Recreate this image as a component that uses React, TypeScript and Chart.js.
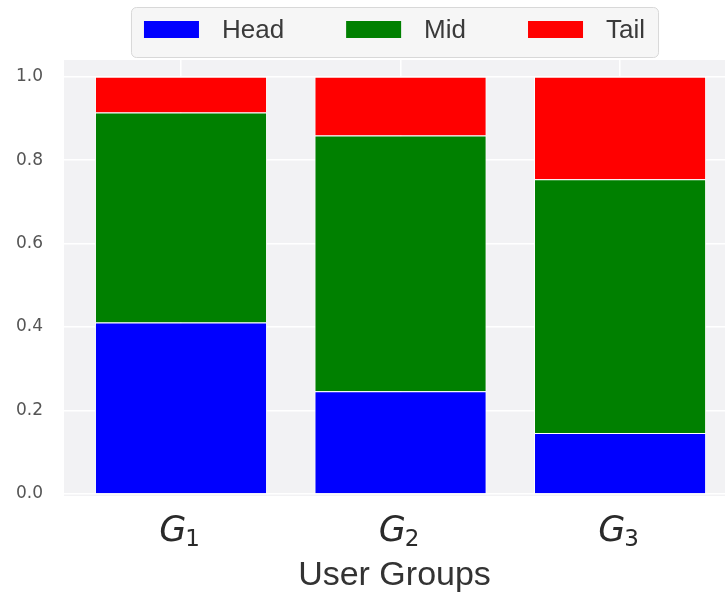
import React, { useEffect, useRef } from "react";
import { Chart, registerables } from "chart.js";

Chart.register(...registerables);

// ---- data ----
const groupNames = ["G", "G", "G"];
const groupSubscripts = ["1", "2", "3"];
const seriesNames = ["Head", "Mid", "Tail"];
const headValues = [0.411, 0.246, 0.146];
const midValues = [0.503, 0.613, 0.608];
const tailValues = [0.086, 0.141, 0.246];
const yTickValues = [0, 0.2, 0.4, 0.6, 0.8, 1.0];
const xTitle = "User Groups";
const seriesColors = ["#0000ff", "#008000", "#ff0000"];

const W = 725;
const H = 598;

const bgPlugin = {
  id: "plotBg",
  beforeDraw(chart: any) {
    const { ctx, chartArea } = chart;
    ctx.save();
    ctx.fillStyle = "#ffffff";
    ctx.fillRect(0, 0, chart.width, chart.height);
    ctx.fillStyle = "#f2f2f4";
    ctx.fillRect(chartArea.left, chartArea.top, chartArea.right - chartArea.left, chartArea.bottom - chartArea.top + 2);
    ctx.restore();
  },
};

const legendPlugin = {
  id: "customLegend",
  afterDraw(chart: any) {
    const { ctx, chartArea } = chart;
    ctx.save();
    ctx.font = '26px "Liberation Sans", Arial, sans-serif';
    const sw = 55, sh = 17, gap = 23, spacing = 62, padX = 13;
    const items = chart.data.datasets.map((d: any) => ({
      label: d.label,
      color: d.backgroundColor,
      tw: ctx.measureText(d.label).width,
    }));
    const inner =
      items.reduce((s: number, it: any) => s + sw + gap + it.tw, 0) + spacing * (items.length - 1);
    const boxW = inner + 2 * padX;
    const cx = (chartArea.left + chartArea.right) / 2;
    const bx = cx - boxW / 2;
    const by = 7;
    const bh = 50;
    ctx.beginPath();
    (ctx as any).roundRect(bx + 0.5, by + 0.5, boxW, bh, 5);
    ctx.fillStyle = "#f6f6f6";
    ctx.fill();
    ctx.strokeStyle = "#d8d8d8";
    ctx.lineWidth = 1;
    ctx.stroke();
    const cy = 29.5;
    let x = bx + padX;
    ctx.textBaseline = "middle";
    ctx.textAlign = "left";
    items.forEach((it: any) => {
      ctx.fillStyle = it.color;
      ctx.fillRect(x, cy - sh / 2, sw, sh);
      x += sw + gap;
      ctx.fillStyle = "#3a3a3a";
      ctx.fillText(it.label, x, cy + 1);
      x += it.tw + spacing;
    });
    ctx.restore();
  },
};

const xLabelPlugin = {
  id: "xMathLabels",
  afterDraw(chart: any) {
    const { ctx } = chart;
    const xs = chart.scales.x;
    ctx.save();
    ctx.fillStyle = "#2a2a2a";
    ctx.textBaseline = "alphabetic";
    ctx.textAlign = "left";
    groupNames.forEach((g, i) => {
      const cx = xs.getPixelForValue(i);
      ctx.font = 'italic 35px "DejaVu Sans", sans-serif';
      const w1 = ctx.measureText(g).width;
      ctx.font = '23px "DejaVu Sans", sans-serif';
      const w2 = ctx.measureText(groupSubscripts[i]).width;
      const start = cx - (w1 + w2) / 2 - 1;
      ctx.font = 'italic 35px "DejaVu Sans", sans-serif';
      ctx.fillText(g, start, 541);
      ctx.font = '23px "DejaVu Sans", sans-serif';
      ctx.fillText(groupSubscripts[i], start + w1 - 1, 546);
    });
    ctx.restore();
  },
};

export default function App() {
  const ref = useRef<HTMLCanvasElement | null>(null);

  useEffect(() => {
    document.body.style.margin = "0";
    const canvas = ref.current;
    if (!canvas) return;
    const mk = (vals: number[]) => vals.map((v, i) => ({ x: i, y: v }));
    const allSeries = [headValues, midValues, tailValues];
    const chart = new Chart(canvas, {
      type: "bar",
      data: {
        datasets: seriesNames.map((name, k) => ({
          label: name,
          data: mk(allSeries[k]),
          backgroundColor: seriesColors[k],
          borderColor: "#ffffff",
          borderWidth: 1,
          barPercentage: 0.784,
          categoryPercentage: 1,
        })),
      },
      options: {
        responsive: false,
        animation: false,
        layout: { padding: { top: 60, left: 0, right: 0, bottom: 0 } },
        plugins: {
          legend: { display: false },
          tooltip: { enabled: false },
        },
        scales: {
          x: {
            type: "linear",
            offset: false,
            stacked: true,
            min: -0.533,
            max: 2.478,
            afterBuildTicks: (s: any) => {
              s.ticks = groupNames.map((_, i) => ({ value: i }));
            },
            afterFit: (s: any) => {
              s.height = 104;
            },
            ticks: { display: false },
            grid: { color: "#ffffff", lineWidth: 1.5, drawTicks: false, offset: false },
            border: { display: false },
            title: {
              display: true,
              text: xTitle,
              color: "#333333",
              font: { family: '"Liberation Sans", Arial, sans-serif', size: 34, lineHeight: 1 },
              padding: { top: 0, bottom: 5 },
            },
          },
          y: {
            stacked: true,
            min: 0,
            max: 1.04,
            afterBuildTicks: (s: any) => {
              s.ticks = yTickValues.map((v) => ({ value: v }));
            },
            afterFit: (s: any) => {
              s.width = 64;
            },
            ticks: {
              color: "#555555",
              padding: 21,
              font: { family: '"DejaVu Sans", sans-serif', size: 17 },
              callback: (v: any) => Number(v).toFixed(1),
            },
            grid: { color: "#ffffff", lineWidth: 1.5, drawTicks: false },
            border: { display: false },
          },
        },
      },
      plugins: [bgPlugin, legendPlugin, xLabelPlugin],
    } as any);
    return () => chart.destroy();
  }, []);

  return (
    <div style={{ width: W, height: H }}>
      <canvas ref={ref} width={W} height={H} style={{ display: "block" }} />
    </div>
  );
}
